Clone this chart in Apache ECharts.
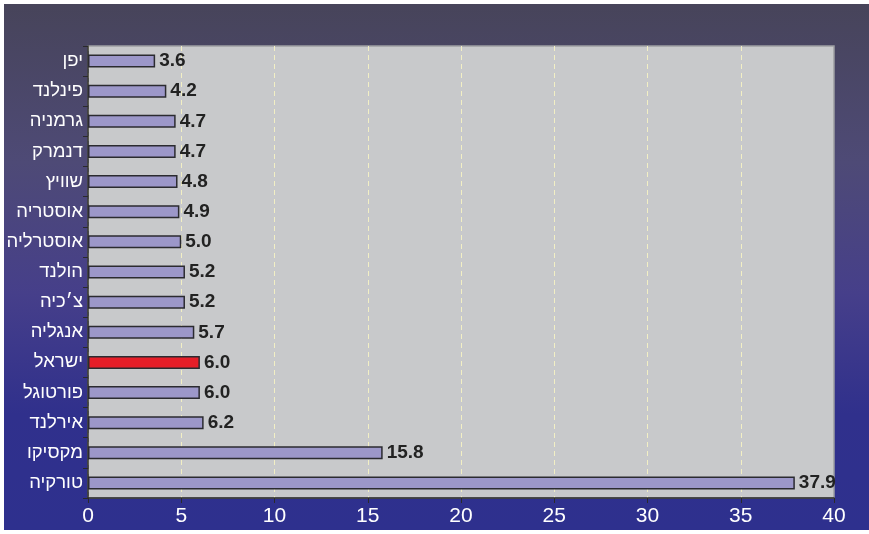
<!DOCTYPE html>
<html>
<head>
<meta charset="utf-8">
<script src="https://cdn.jsdelivr.net/npm/echarts@6/dist/echarts.min.js"></script>
<style>
  html, body { margin: 0; padding: 0; background: #ffffff; }
  #chart { position: absolute; left: 4px; top: 4px; width: 865px; height: 526px; }
</style>
</head>
<body>
<div id="chart"></div>
<script>
// Countries, listed top to bottom
const countries = ['יפן', 'פינלנד', 'גרמניה', 'דנמרק', 'שוויץ', 'אוסטריה', 'אוסטרליה', 'הולנד', 'צ׳כיה', 'אנגליה', 'ישראל', 'פורטוגל', 'אירלנד', 'מקסיקו', 'טורקיה'];
const values = [3.6, 4.2, 4.7, 4.7, 4.8, 4.9, 5.0, 5.2, 5.2, 5.7, 6.0, 6.0, 6.2, 15.8, 37.9];
const highlighted = 'ישראל';
const xTicks = [0, 5, 10, 15, 20, 25, 30, 35, 40];

const chart = echarts.init(document.getElementById('chart'), null, { renderer: 'canvas' });

const barData = countries.map((c, i) => ({
  value: values[i],
  itemStyle: { color: c === highlighted ? '#e61e28' : '#9c97c9' }
}));

chart.setOption({
  animation: false,
  backgroundColor: {
    type: 'linear', x: 0, y: 0, x2: 0, y2: 1,
    colorStops: [
      { offset: 0, color: '#47445a' },
      { offset: 0.3, color: '#4e4a76' },
      { offset: 0.55, color: '#463f8a' },
      { offset: 0.78, color: '#30308c' },
      { offset: 1, color: '#2e308e' }
    ]
  },
  grid: {
    left: 84, top: 42, right: 35, bottom: 32,
    outerBoundsMode: 'none',
    containLabel: false,
    show: true,
    backgroundColor: '#c8c9cb',
    borderColor: '#9d9ea3',
    borderWidth: 1.5
  },
  xAxis: {
    type: 'value',
    min: xTicks[0],
    max: xTicks[xTicks.length - 1],
    interval: xTicks[1] - xTicks[0],
    axisLine: { show: true, lineStyle: { color: '#2a2a2a', width: 1.5 } },
    axisTick: { show: true, length: 5, lineStyle: { color: '#2a2a2a' } },
    axisLabel: {
      color: '#ffffff', fontSize: 21, fontFamily: 'Liberation Sans, Arial, sans-serif',
      margin: 8
    },
    splitLine: {
      show: true,
      showMaxLine: false,
      lineStyle: { color: '#f2efc4', type: [5, 4], width: 1 }
    }
  },
  yAxis: {
    type: 'category',
    data: countries,
    inverse: true,
    axisLine: { show: true, lineStyle: { color: '#2a2a2a', width: 1.5 } },
    axisTick: { show: true, length: 5, lineStyle: { color: '#2a2a2a' } },
    axisLabel: {
      color: '#ffffff', fontSize: 18.5, fontFamily: 'Liberation Sans, Arial, sans-serif',
      margin: 5
    },
    splitLine: { show: false }
  },
  series: [{
    type: 'bar',
    data: barData,
    barWidth: 13,
    itemStyle: { borderColor: '#2b2b30', borderWidth: 1.5 },
    label: {
      show: true,
      position: 'right',
      distance: 4,
      color: '#222222',
      fontSize: 19,
      fontWeight: 'bold',
      fontFamily: 'Liberation Sans, Arial, sans-serif',
      formatter: p => p.value.toFixed(1)
    }
  }]
});
</script>
</body>
</html>
